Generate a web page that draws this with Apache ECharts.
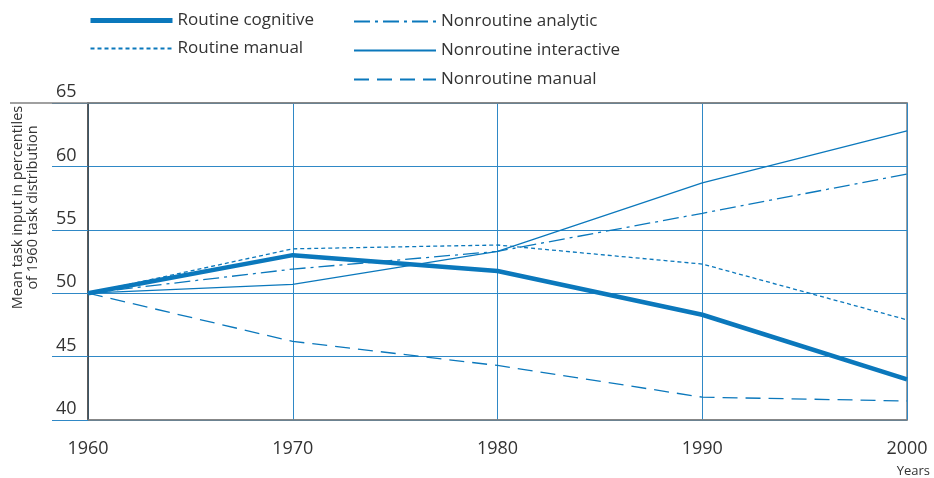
<!DOCTYPE html>
<html>
<head>
<meta charset="utf-8">
<script src="https://cdn.jsdelivr.net/npm/echarts@6/dist/echarts.min.js"></script>
<style>
  html, body { margin: 0; padding: 0; background: #fff; }
  #chart { width: 934px; height: 478px; }
</style>
</head>
<body>
<div id="chart"></div>
<script>
// Task input trends, 1960-2000
const years = [1960, 1970, 1980, 1990, 2000];
const routineCognitive = [50, 53.0, 51.75, 48.3, 43.2];
const routineManual = [50, 53.5, 53.8, 52.3, 47.9];
const nonroutineAnalytic = [50, 51.9, 53.3, 56.3, 59.4];
const nonroutineInteractive = [50, 50.7, 53.3, 58.7, 62.8];
const nonroutineManual = [50, 46.2, 44.3, 41.8, 41.5];

const lineBlue = '#0b78bc';
const gridBlue = '#2f88c6';
const textColor = '#333';
const fontFamily = '"Open Sans", "Noto Sans", sans-serif';

const chart = echarts.init(document.getElementById('chart'));

function pairs(vals) {
    return years.map((y, i) => [y, vals[i]]);
}

function makeSeries(name, vals, width, type) {
    return {
        name: name,
        type: 'line',
        data: pairs(vals),
        symbol: 'none',
        showSymbol: false,
        lineStyle: { width: width, color: lineBlue, type: type },
        itemStyle: { color: lineBlue },
        z: 5
    };
}

const legendText = { color: textColor, fontSize: 17, fontFamily: fontFamily };
const legendBase = {
    orient: 'vertical',
    padding: 0,
    itemWidth: 82,
    itemHeight: 14,
    itemGap: 13,
    textStyle: legendText,
    itemStyle: { opacity: 0 }
};

const option = {
    animation: false,
    backgroundColor: '#fff',
    legend: [
        Object.assign({}, legendBase, {
            left: 88,
            top: 12,
            itemGap: 11,
            data: [
                { name: 'Routine cognitive', lineStyle: { width: 5 } },
                'Routine manual'
            ]
        }),
        Object.assign({}, legendBase, {
            left: 353,
            top: 13,
            itemGap: 12,
            data: ['Nonroutine analytic', 'Nonroutine interactive', 'Nonroutine manual']
        })
    ],
    grid: {
        left: 88,
        right: 27,
        top: 103,
        bottom: 58,
        show: true,
        borderColor: '#808080',
        borderWidth: 1.5,
        outerBoundsMode: 'none',
        containLabel: false
    },
    xAxis: [
        {
            type: 'value',
            min: 1960,
            max: 2000,
            interval: 10,
            name: 'Years',
            nameLocation: 'end',
            nameGap: 23,
            nameTextStyle: {
                color: textColor, fontSize: 13, fontFamily: fontFamily,
                align: 'right', verticalAlign: 'top', padding: [45, 0, 0, 0]
            },
            axisLine: { show: true, lineStyle: { color: '#808080', width: 1.5 } },
            axisTick: { show: false },
            axisLabel: {
                color: textColor, fontSize: 18, fontFamily: fontFamily, margin: 20,
                formatter: v => String(v)
            },
            splitLine: { show: true, lineStyle: { color: gridBlue, width: 1 } }
        },
        {
            type: 'value',
            position: 'top',
            min: 1960,
            max: 2000,
            interval: 10,
            axisLine: { show: true, lineStyle: { color: '#808080', width: 1.5 } },
            axisTick: { show: false },
            axisLabel: { show: false },
            splitLine: { show: false }
        }
    ],
    yAxis: {
        type: 'value',
        min: 40,
        max: 65,
        interval: 5,
        name: 'Mean task input in percentiles\nof 1960 task distribution',
        nameLocation: 'middle',
        nameGap: 48,
        nameTextStyle: {
            color: textColor, fontSize: 14.5, fontFamily: fontFamily, lineHeight: 15,
            padding: [0, 0, 0, 108]
        },
        axisLine: { show: true, lineStyle: { color: '#444', width: 1.5 } },
        axisTick: {
            show: true,
            length: 36,
            interval: 0,
            lineStyle: { color: gridBlue, width: 1 }
        },
        axisLabel: {
            color: textColor, fontSize: 18, fontFamily: fontFamily,
            align: 'left', verticalAlign: 'bottom', margin: 32, padding: [0, 0, 2, 0]
        },
        splitLine: { show: true, lineStyle: { color: gridBlue, width: 1 } }
    },
    graphic: [
        {
            type: 'line',
            shape: { x1: 10, y1: 103, x2: 88, y2: 103 },
            style: { stroke: '#808080', lineWidth: 1.5 },
            z: 10
        }
    ],
    series: [
        makeSeries('Routine cognitive', routineCognitive, 4.5, 'solid'),
        makeSeries('Routine manual', routineManual, 1.3, [4, 3]),
        makeSeries('Nonroutine analytic', nonroutineAnalytic, 1.3, [16, 5, 3, 5]),
        makeSeries('Nonroutine interactive', nonroutineInteractive, 1.3, 'solid'),
        makeSeries('Nonroutine manual', nonroutineManual, 1.3, [15, 8])
    ]
};

chart.setOption(option);
</script>
</body>
</html>
